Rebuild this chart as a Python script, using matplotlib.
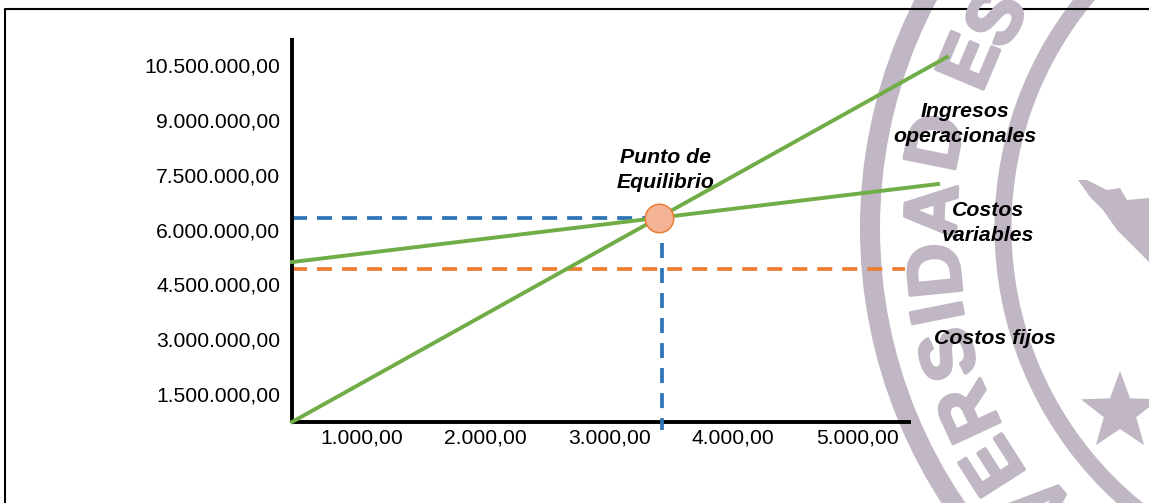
import math
import matplotlib
matplotlib.use("Agg")
from matplotlib import pyplot as plt
from matplotlib.patches import Circle, Polygon
import matplotlib.patheffects as pe

plt.rcParams['font.family'] = ['Liberation Sans', 'DejaVu Sans']

# values
x_ticks = [1000, 2000, 3000, 4000, 5000]
x_labels = ['1.000,00', '2.000,00', '3.000,00', '4.000,00', '5.000,00']
y_ticks = [1500000, 3000000, 4500000, 6000000, 7500000, 9000000, 10500000]
y_labels = ['1.500.000,00', '3.000.000,00', '4.500.000,00', '6.000.000,00',
            '7.500.000,00', '9.000.000,00', '10.500.000,00']

ingresos_x = [434, 5727]
ingresos_y = [734000, 10720000]
variables_x = [434, 5655]
variables_y = [5110000, 7245000]
fijos_x = [434, 5388]
fijos_y = [4930000, 4930000]
eq_x = 3400
eq_y = 6315000
eq_drop_x = 3422
eq_drop_bottom = 515000

GREEN = '#70AD47'
BLUE = '#2E75B6'
ORANGE = '#ED7D31'
SEAL = '#C0B6C4'

W, H = 1149, 503
fig = plt.figure(figsize=(W / 100, H / 100), dpi=100)

# background layer in pixel coords: seal watermark and frame
bg = fig.add_axes([0, 0, 1, 1], zorder=0)
bg.set_xlim(0, W)
bg.set_ylim(H, 0)
bg.axis('off')

cx, cy = 1365, 228
for r, w in [(495, 20), (362, 17)]:
    bg.add_patch(Circle((cx, cy), r, fill=False, ec=SEAL, lw=w * 0.72))

seal_letters = [('V', 1047, 503), ('E', 997, 463), ('R', 973, 410), ('S', 953, 353),
                ('I', 943, 312), ('D', 940, 270), ('A', 937, 211), ('D', 940, 143),
                ('E', 973, 63), ('S', 1000, 20)]
for ch, lx, ly in seal_letters:
    ang = math.degrees(math.atan2(ly - cy, cx - lx))
    t = bg.text(lx, ly, ch, color=SEAL, fontsize=54, fontweight='bold',
                rotation=90 + ang, rotation_mode='anchor', ha='center', va='center')
    t.set_path_effects([pe.withStroke(linewidth=2.5, foreground=SEAL)])

star = []
for i in range(10):
    r = 41 if i % 2 == 0 else 17
    a = math.radians(-90 + 36 * i)
    star.append((1120 + r * math.cos(a), 412 + r * math.sin(a)))
bg.add_patch(Polygon(star, fc=SEAL, ec='none'))
bg.add_patch(Polygon([(1078, 180), (1087, 180), (1107, 190), (1120, 188), (1127, 200),
                      (1149, 198), (1149, 262), (1137, 250), (1117, 230), (1103, 210),
                      (1090, 197)], fc=SEAL, ec='none'))

bg.plot([5, 5, W], [H, 9, 9], color='black', lw=1.5)

# chart
ax = fig.add_axes([292 / W, 1 - 422 / H, (911 - 292) / W, (422 - 38) / H], zorder=1)
ax.patch.set_alpha(0)
ax.set_xlim(434, 5436)
ax.set_ylim(734000, 11240000)
for s in ['top', 'right']:
    ax.spines[s].set_visible(False)
for s in ['left', 'bottom']:
    ax.spines[s].set_linewidth(2.8)
    ax.spines[s].set_capstyle('butt')
ax.set_xticks(x_ticks)
ax.set_xticklabels(x_labels)
ax.set_yticks(y_ticks)
ax.set_yticklabels(y_labels)
ax.tick_params(length=0, labelsize=15.2, colors='black')
ax.tick_params(axis='x', pad=4.5)
ax.tick_params(axis='y', pad=8.5)

dash = (0, (4, 2.67))
ax.plot([434, eq_x], [eq_y, eq_y], color=BLUE, lw=2.7, ls=dash, clip_on=False, zorder=2)
ax.plot([eq_drop_x, eq_drop_x], [eq_y, eq_drop_bottom], color=BLUE, lw=2.7, ls=dash,
        clip_on=False, zorder=5)
ax.plot(fijos_x, fijos_y, color=ORANGE, lw=2.7, ls=dash, clip_on=False, zorder=2)
ax.plot(ingresos_x, ingresos_y, color=GREEN, lw=2.8, clip_on=False, zorder=3)
ax.plot(variables_x, variables_y, color=GREEN, lw=2.8, clip_on=False, zorder=3)
ax.plot([eq_x], [eq_y], 'o', ms=20.5, mfc='#F5B395', mec=ORANGE, mew=1.1, clip_on=False, zorder=6)

lab = dict(fontsize=15.3, fontweight='bold', fontstyle='italic', ha='center', va='center',
           linespacing=1.42, color='black')
fig.text(666 / W, 1 - 170 / H, 'Punto de\nEquilibrio', zorder=5, **lab)
fig.text(965 / W, 1 - 124 / H, 'Ingresos\noperacionales', zorder=5, **lab)
fig.text(988 / W, 1 - 223 / H, 'Costos\nvariables', zorder=5, **lab)
fig.text(995 / W, 1 - 339 / H, 'Costos fijos', zorder=5, **lab)

fig.savefig('out.png', dpi=100)
